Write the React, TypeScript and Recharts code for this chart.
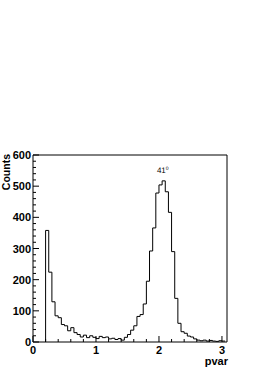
import { LineChart, Line, XAxis, YAxis, ReferenceArea, ReferenceDot } from "recharts"

// histogram of pvar, bins of 0.05 starting at 0.2
const BIN_LOW = 0.2
const BIN_WIDTH = 0.05
const COUNTS = [
  358, 224, 129, 84, 78, 56, 52, 36, 46, 30,
  24, 16, 22, 14, 20, 15, 11, 18, 14, 16,
  10, 12, 8, 11, 6, 15, 24, 38, 52, 82,
  88, 122, 195, 292, 366, 478, 504, 517, 482, 416,
  290, 140, 60, 33, 28, 19, 16, 10, 6, 4,
  6, 3, 5, 3, 2, 4, 3,
]

const X_MAX = 3.08
const Y_MAX = 600
const X_TICKS = [0, 0.2, 0.4, 0.6, 0.8, 1, 1.2, 1.4, 1.6, 1.8, 2, 2.2, 2.4, 2.6, 2.8, 3]
const X_LABELS = [0, 1, 2, 3]
const Y_TICKS = [
  0, 20, 40, 60, 80, 100, 120, 140, 160, 180, 200, 220, 240, 260, 280, 300,
  320, 340, 360, 380, 400, 420, 440, 460, 480, 500, 520, 540, 560, 580, 600,
]
const Y_LABELS = [0, 100, 200, 300, 400, 500, 600]

const PEAK_TEXT = "41"
const PEAK_SUP = "0"
const PEAK_AT = { x: 2.06, y: 517 }

const W = 269
const H = 372
const LEFT = 33
const TOP = 155
const RIGHT = 227
const BOTTOM = 342
const FONT = "'Liberation Sans', Arial, Helvetica, sans-serif"

// step outline: start at 0, one point per bin low edge, close at last upper edge
const data = [
  { x: BIN_LOW, y: 0 },
  ...COUNTS.map((c, i) => ({ x: +(BIN_LOW + i * BIN_WIDTH).toFixed(3), y: c })),
  { x: +(BIN_LOW + COUNTS.length * BIN_WIDTH).toFixed(3), y: COUNTS[COUNTS.length - 1] },
]

const XTick = (props: any) => {
  const { x, payload } = props
  const v = payload.value
  const major = X_LABELS.includes(v)
  return (
    <g>
      <line x1={x} x2={x} y1={BOTTOM} y2={BOTTOM - (major ? 6 : 3)} stroke="#000" />
      {major && (
        <text x={x} y={BOTTOM + 12} textAnchor="middle" fontFamily={FONT} fontWeight="bold" fontSize={11} fill="#000">
          {v}
        </text>
      )}
    </g>
  )
}

const YTick = (props: any) => {
  const { y, payload } = props
  const v = payload.value
  const major = Y_LABELS.includes(v)
  return (
    <g>
      <line x1={LEFT} x2={LEFT + (major ? 6 : 3)} y1={y} y2={y} stroke="#000" />
      {major && (
        <text x={LEFT - 2} y={y + 4} textAnchor="end" fontFamily={FONT} fontWeight="bold" fontSize={11} fill="#000">
          {v}
        </text>
      )}
    </g>
  )
}

export default function App() {
  return (
    <div style={{ position: "absolute", left: 0, top: 0, width: W, height: H, background: "#fff" }}>
      <LineChart width={W} height={H} data={data} margin={{ top: TOP, right: W - RIGHT, bottom: 0, left: 0 }}>
        <XAxis
          dataKey="x"
          type="number"
          domain={[0, X_MAX]}
          ticks={X_TICKS}
          interval={0}
          allowDataOverflow
          axisLine={false}
          tickLine={false}
          tickSize={0}
          height={H - BOTTOM}
          tick={<XTick />}
          label={{
            content: () => (
              <text x={RIGHT + 1} y={H - 7} textAnchor="end" fontFamily={FONT} fontWeight="bold" fontSize={11} fill="#000">
                pvar
              </text>
            ),
          }}
        />
        <YAxis
          type="number"
          domain={[0, Y_MAX]}
          ticks={Y_TICKS}
          interval={0}
          axisLine={false}
          tickLine={false}
          tickSize={0}
          width={LEFT}
          tick={<YTick />}
          label={{
            content: () => (
              <text
                x={0}
                y={0}
                transform={`translate(10, ${TOP - 1}) rotate(-90)`}
                textAnchor="end"
                fontFamily={FONT}
                fontWeight="bold"
                fontSize={10.5}
                fill="#000"
              >
                Counts
              </text>
            ),
          }}
        />
        <ReferenceArea x1={0} x2={X_MAX} y1={0} y2={Y_MAX} fill="none" stroke="#000" strokeWidth={1} ifOverflow="visible" />
        <Line
          dataKey="y"
          type="stepAfter"
          stroke="#000"
          strokeWidth={1}
          dot={false}
          isAnimationActive={false}
        />
        <ReferenceDot
          x={PEAK_AT.x}
          y={PEAK_AT.y}
          ifOverflow="visible"
          shape={(p: any) => (
            <text
              x={p.cx}
              y={p.cy - 8}
              textAnchor="middle"
              fontFamily={FONT}
              fontSize={8}
              fill="#000"
              stroke="none"
              textRendering="geometricPrecision"
              style={{ fill: "#000", WebkitFontSmoothing: "antialiased" }}
            >
              {PEAK_TEXT}
              <tspan fontSize={5} dy={-3} style={{ fill: "#000" }}>
                {PEAK_SUP}
              </tspan>
            </text>
          )}
        />
      </LineChart>
    </div>
  )
}
